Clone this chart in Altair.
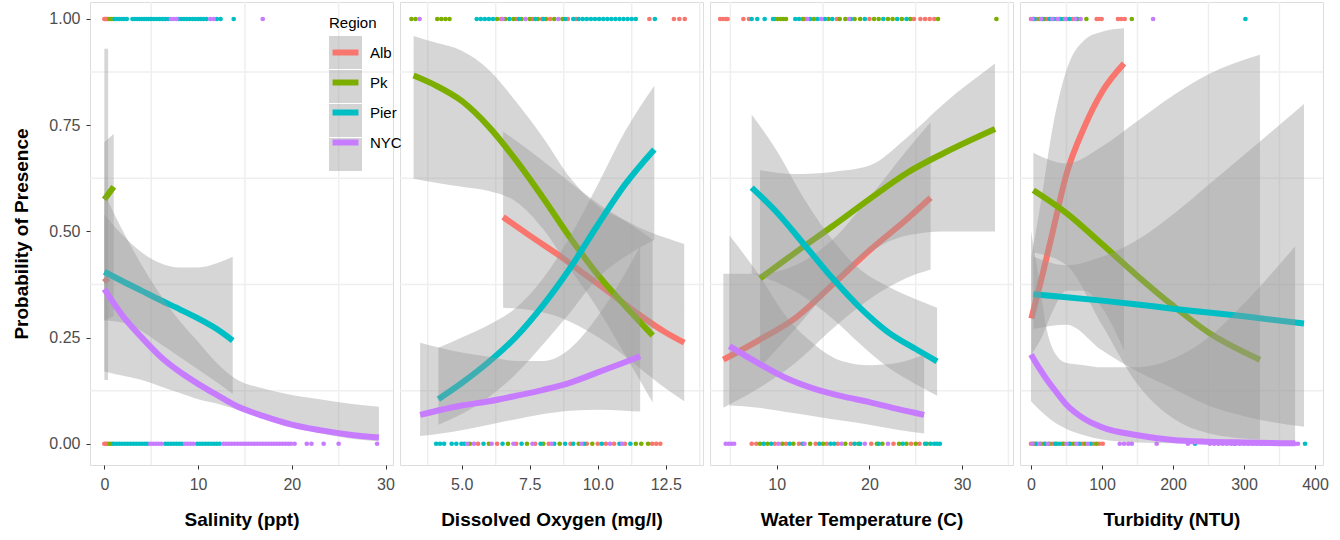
import altair as alt
import pandas as pd

FONT = "Liberation Sans"
REGIONS = ["Alb", "Pk", "Pier", "NYC"]
COLORS = ["#F8766D", "#7CAE00", "#00BFC4", "#C77CFF"]
Y_TICKS = [0, 0.25, 0.5, 0.75, 1.0]
Y_MINOR = [0.125, 0.375, 0.625, 0.875]
Y_DOMAIN = [-0.05, 1.04]

# ---------------- Salinity ----------------
SAL_TITLE = "Salinity (ppt)"
SAL_TICKS = [0, 10, 20, 30]
SAL_MINOR = [5, 15, 25]
SAL_DOMAIN = [-1.53, 30.8]
sal_alb = dict(x=[0, 0.4], fit=[0.39, 0.38], lo=[0.15, 0.15], hi=[0.93, 0.93])
sal_pk = dict(x=[0, 0.5, 1.0], fit=[0.575, 0.59, 0.605], lo=[0.29, 0.295, 0.30], hi=[0.71, 0.72, 0.73])
sal_pier = dict(x=[0, 2, 4, 6, 8, 10, 12, 13.7],
                fit=[0.405, 0.382, 0.36, 0.338, 0.317, 0.295, 0.27, 0.243],
                lo=[0.29, 0.285, 0.265, 0.235, 0.205, 0.175, 0.145, 0.117],
                hi=[0.54, 0.49, 0.45, 0.425, 0.415, 0.415, 0.425, 0.44])
sal_nyc = dict(x=[0, 2, 4, 6, 8, 10, 12, 14, 17, 20, 23, 26, 29.3],
               fit=[0.364, 0.30, 0.25, 0.205, 0.17, 0.141, 0.115, 0.09, 0.065, 0.045, 0.032, 0.022, 0.015],
               lo=[0.17, 0.16, 0.15, 0.135, 0.12, 0.105, 0.095, 0.082, 0.06, 0.04, 0.025, 0.013, 0.006],
               hi=[0.59, 0.50, 0.42, 0.35, 0.29, 0.24, 0.19, 0.153, 0.13, 0.115, 0.105, 0.095, 0.087])
sal_top_alb = [0.0, 0.1, 0.2, 0.3, 0.4]
sal_top_pk = [0.55, 0.75, 0.95]
sal_top_pier = [1.1, 1.35, 1.6, 1.85, 2.1, 2.4, 3.0, 3.25, 3.5, 3.75, 4.0, 4.25, 4.5, 4.75, 5.0, 5.3, 5.6,
                5.9, 6.2, 6.5, 6.8, 7.9, 8.2, 8.5, 8.8, 9.1, 9.4, 9.7, 10.0, 10.3, 10.6, 10.9, 12.0, 12.4, 13.8]
sal_top_nyc = [7.1, 7.4, 7.7, 11.3, 11.65, 16.9]
sal_bot_alb = [0.0, 0.15, 0.3]
sal_bot_pk = [0.55, 0.8]
sal_bot_pier = [1.0, 1.3, 1.6, 1.9, 2.2, 2.5, 2.8, 3.1, 3.4, 3.7, 4.0, 4.3, 4.6, 6.5, 6.8, 7.1, 7.4, 7.7,
                8.0, 8.3, 9.9, 10.2, 10.5, 10.8, 11.1, 11.4, 11.7, 12.0, 12.3]
sal_bot_nyc = [4.9, 5.2, 5.5, 5.8, 6.1, 8.6, 8.9, 9.2, 9.5, 12.7, 13.0, 13.3, 13.6, 13.9, 14.2, 14.5, 14.8,
               15.1, 15.4, 15.7, 16.0, 16.3, 16.6, 16.9, 17.2, 17.5, 17.8, 18.1, 18.4, 18.7, 19.0, 19.3,
               19.6, 19.9, 20.3, 21.6, 22.1, 23.4, 25.0, 29.1]

# ---------------- Dissolved oxygen ----------------
DO_TITLE = "Dissolved Oxygen (mg/l)"
DO_TICKS = [5.0, 7.5, 10.0, 12.5]
DO_MINOR = [3.75, 6.25, 8.75, 11.25, 13.75]
DO_DOMAIN = [2.73, 13.87]
do_alb = dict(x=[6.52, 7.5, 8.5, 9.5, 10.5, 11.5, 12.5, 13.18],
              fit=[0.534, 0.49, 0.447, 0.40, 0.353, 0.305, 0.262, 0.238],
              lo=[0.32, 0.315, 0.30, 0.27, 0.23, 0.18, 0.13, 0.10],
              hi=[0.735, 0.69, 0.64, 0.59, 0.545, 0.51, 0.485, 0.47])
do_pk = dict(x=[3.23, 4, 5, 6, 7, 8, 9, 10, 11, 12.02],
             fit=[0.867, 0.845, 0.807, 0.746, 0.667, 0.578, 0.484, 0.398, 0.325, 0.255],
             lo=[0.624, 0.615, 0.605, 0.595, 0.57, 0.505, 0.41, 0.318, 0.21, 0.097],
             hi=[0.96, 0.945, 0.925, 0.88, 0.805, 0.72, 0.625, 0.56, 0.525, 0.48])
do_pier = dict(x=[4.14, 5, 6, 7, 8, 9, 10, 11, 12.08],
               fit=[0.105, 0.143, 0.193, 0.252, 0.327, 0.415, 0.515, 0.61, 0.693],
               lo=[0.045, 0.07, 0.11, 0.165, 0.235, 0.31, 0.39, 0.44, 0.48],
               hi=[0.226, 0.25, 0.28, 0.32, 0.39, 0.49, 0.61, 0.735, 0.843])
do_nyc = dict(x=[3.47, 5, 6, 7, 8, 9, 10, 11, 11.56],
              fit=[0.068, 0.09, 0.10, 0.113, 0.127, 0.144, 0.168, 0.192, 0.206],
              lo=[0.018, 0.032, 0.045, 0.058, 0.07, 0.078, 0.08, 0.078, 0.076],
              hi=[0.238, 0.215, 0.205, 0.195, 0.195, 0.225, 0.30, 0.40, 0.465])
do_top_alb = [6.45, 7.0, 7.6, 7.95, 8.25, 8.9, 9.2, 11.9, 12.8, 13.0, 13.2]
do_top_pk = [3.15, 3.3, 4.1, 4.25, 4.4, 4.55, 6.3, 6.6, 6.9, 7.2, 7.5, 7.8, 8.1, 8.4, 8.7]
do_top_pier = [5.55, 5.7, 5.85, 6.0, 6.15, 6.75, 7.1, 7.7, 8.0, 8.8, 9.1, 9.3, 9.45, 9.6, 9.75, 9.9, 10.05,
               10.2, 10.35, 10.5, 10.65, 10.8, 10.95, 11.1, 11.25, 11.4, 12.1]
do_top_nyc = [3.45, 6.5, 7.35, 8.55]
do_bot_alb = [5.6, 6.3, 7.0, 7.7, 8.2, 9.0, 9.6, 10.0, 10.3, 10.6, 11.0, 12.0, 12.15, 12.3]
do_bot_pk = [5.3, 6.0, 6.7, 7.4, 8.0, 8.6, 9.3, 9.8, 11.4, 11.6, 11.85]
do_bot_pier = [4.06, 4.2, 4.35, 4.63, 4.8, 4.99, 5.1, 5.8, 6.5, 7.2, 7.9, 8.4, 8.8, 9.1, 9.5, 10.15, 10.8, 11.2]
do_bot_nyc = [5.2, 5.45, 6.1, 6.9, 7.6, 8.3, 9.4, 10.45, 10.9]

# ---------------- Water temperature ----------------
TMP_TITLE = "Water Temperature (C)"
TMP_TICKS = [10, 20, 30]
TMP_MINOR = [5, 15, 25, 35]
TMP_DOMAIN = [2.8, 35.49]
tmp_alb = dict(x=[4.24, 8, 12, 16, 20, 24, 26.6],
               fit=[0.198, 0.243, 0.296, 0.374, 0.455, 0.528, 0.579],
               lo=[0.085, 0.13, 0.19, 0.27, 0.34, 0.39, 0.41],
               hi=[0.40, 0.40, 0.42, 0.48, 0.58, 0.69, 0.757])
tmp_pk = dict(x=[8.2, 12, 16, 20, 24, 28, 33.55],
              fit=[0.389, 0.45, 0.512, 0.576, 0.637, 0.684, 0.741],
              lo=[0.18, 0.27, 0.37, 0.45, 0.49, 0.50, 0.50],
              hi=[0.644, 0.635, 0.64, 0.655, 0.72, 0.80, 0.895])
tmp_pier = dict(x=[7.3, 10, 13, 16, 19, 22, 25, 27.3],
                fit=[0.603, 0.545, 0.468, 0.39, 0.32, 0.263, 0.223, 0.194],
                lo=[0.40, 0.38, 0.345, 0.295, 0.235, 0.18, 0.14, 0.113],
                hi=[0.775, 0.69, 0.575, 0.48, 0.41, 0.37, 0.34, 0.32])
tmp_nyc = dict(x=[4.9, 8, 11, 14, 17, 20, 23, 25.9],
               fit=[0.23, 0.19, 0.155, 0.13, 0.112, 0.098, 0.082, 0.068],
               lo=[0.09, 0.085, 0.075, 0.065, 0.055, 0.045, 0.033, 0.024],
               hi=[0.49, 0.40, 0.30, 0.235, 0.195, 0.185, 0.19, 0.21])
tmp_top_alb = [3.9, 4.2, 4.5, 4.7, 6.4, 7.0, 13.0, 16.5, 20.0, 24.8, 25.5, 26.0, 26.5, 27.0]
tmp_top_pk = [9.8, 10.1, 10.4, 10.7, 11.0, 12.8, 14.0, 15.6, 16.8, 17.4, 18.4, 19.0, 20.5, 21.0, 22.0,
              22.5, 23.5, 24.4, 27.4, 33.7]
tmp_top_pier = [7.3, 7.9, 8.7, 9.6, 12.0, 12.4, 13.6, 14.4, 15.2, 16.0, 18.0, 19.5, 21.5, 23.0, 24.0]
tmp_top_nyc = [13.3, 14.8, 17.8]
tmp_bot_alb = [7.3, 7.8, 9.8, 11.0, 12.4, 14.2, 15.4, 16.6, 18.0, 20.2, 22.6, 24.5, 25.4]
tmp_bot_pk = [8.2, 9.0, 10.6, 11.8, 13.6, 15.0, 17.4, 18.8, 20.8, 21.4, 23.2, 24.0, 25.0, 26.2]
tmp_bot_pier = [8.6, 9.4, 11.4, 12.8, 14.6, 15.8, 16.2, 18.4, 19.0, 21.0, 23.6, 26.0, 26.6, 27.0, 27.3, 27.6]
tmp_bot_nyc = [4.5, 4.8, 5.1, 5.4, 10.2, 13.0, 17.0, 19.5, 22.0]

# ---------------- Turbidity ----------------
TRB_TITLE = "Turbidity (NTU)"
TRB_TICKS = [0, 100, 200, 300, 400]
TRB_MINOR = [50, 150, 250, 350]
TRB_DOMAIN = [-15.5, 411.3]
trb_alb = dict(x=[0.5, 15, 30, 50, 75, 100, 131],
               fit=[0.295, 0.39, 0.495, 0.635, 0.745, 0.828, 0.895],
               lo=[0.21, 0.25, 0.31, 0.36, 0.36, 0.32, 0.22],
               hi=[0.44, 0.58, 0.74, 0.88, 0.95, 0.97, 0.978])
trb_pk = dict(x=[3.3, 50, 100, 150, 200, 250, 322.5],
              fit=[0.597, 0.543, 0.47, 0.395, 0.325, 0.262, 0.198],
              lo=[0.45, 0.42, 0.28, 0.14, 0.06, 0.025, 0.01],
              hi=[0.685, 0.66, 0.70, 0.76, 0.82, 0.87, 0.916])
trb_pier = dict(x=[3.3, 50, 100, 150, 200, 250, 300, 384.5],
                fit=[0.352, 0.345, 0.337, 0.328, 0.318, 0.309, 0.30, 0.283],
                lo=[0.27, 0.28, 0.22, 0.17, 0.13, 0.09, 0.065, 0.04],
                hi=[0.44, 0.42, 0.44, 0.48, 0.54, 0.61, 0.68, 0.80])
trb_nyc = dict(x=[0, 10, 22, 35, 50, 75, 100, 150, 200, 250, 300, 372],
               fit=[0.21, 0.182, 0.152, 0.123, 0.092, 0.059, 0.039, 0.02, 0.009, 0.005, 0.003, 0.001],
               lo=[0.10, 0.083, 0.065, 0.048, 0.035, 0.02, 0.01, 0.003, 0.001, 0.0, 0.0, 0.0],
               hi=[0.50, 0.40, 0.27, 0.21, 0.19, 0.185, 0.18, 0.18, 0.20, 0.25, 0.33, 0.465])
trb_top_alb = [0, 8, 22, 36, 50, 58, 92.5, 96, 99.5, 122.5, 127, 132]
trb_top_pk = [3, 12, 18, 28, 40, 46, 66, 78, 142]
trb_top_pier = [5, 16, 26, 32, 42, 54, 64, 302]
trb_top_nyc = [2, 14, 30, 38, 48, 62, 70, 172]
trb_bot_alb = [0, 6, 18, 30, 44, 56, 72, 88, 96, 101]
trb_bot_pk = [4, 14, 26, 36, 46, 60, 76, 92]
trb_bot_pier = [8, 20, 34, 40, 54, 68, 84, 231, 287, 386]
trb_bot_nyc = [2, 12, 24, 50, 64, 80, 125, 131, 137, 142, 177, 221, 252, 258, 264, 270, 276, 282, 288,
               294, 300, 306, 312, 318, 324, 330, 336, 342, 348, 354, 360, 366, 372, 376]

# ---------------- legends ----------------
LEG_X = 239
LEG_Y = 14
# grey key backgrounds (no visible text of their own)
legend_keys = alt.Legend(
    title=" ", orient="none", legendX=LEG_X, legendY=LEG_Y, zindex=0,
    symbolType="square", symbolSize=1089, symbolStrokeWidth=0, symbolOpacity=0.42,
    labelExpr="''", labelFontSize=15, labelOffset=8, labelFont=FONT,
    titleFontSize=15, titleFontWeight="normal", titleFont=FONT, titlePadding=5,
    rowPadding=1, padding=0,
)
# coloured line keys with the title and labels
legend_lines = alt.Legend(
    title="Region", orient="none", legendX=LEG_X, legendY=LEG_Y, zindex=1,
    symbolType="M-0.96,0H0.96", symbolSize=729, symbolStrokeWidth=6, symbolOpacity=1,
    symbolFillColor="transparent",
    labelFontSize=15, labelOffset=8, labelFont=FONT, labelColor="black",
    titleFontSize=15, titleFontWeight="normal", titleFont=FONT, titleColor="black", titlePadding=5,
    rowPadding=1, padding=0,
)

# each colour channel gets its own domain order so that Vega-Lite keeps the legends apart
POINT_ORDER = [3, 2, 1, 0]
BAND_ORDER = [1, 0, 3, 2]
point_scale = alt.Scale(domain=[REGIONS[i] for i in POINT_ORDER], range=[COLORS[i] for i in POINT_ORDER])
band_scale = alt.Scale(domain=[REGIONS[i] for i in BAND_ORDER], range=["#999999"] * 4)
line_scale = alt.Scale(domain=REGIONS, range=COLORS)


def curve_df(region, c):
    return pd.DataFrame({"x": c["x"], "fit": c["fit"], "lo": c["lo"], "hi": c["hi"],
                         "Region": region, "Reg": region})


def point_df(top, bot):
    rows = []
    for region, vals in zip(REGIONS, top):
        rows += [{"x": v, "y": 1.0, "Region": region} for v in vals]
    for region, vals in zip(REGIONS, bot):
        rows += [{"x": v, "y": 0.0, "Region": region} for v in vals]
    return pd.DataFrame(rows)


def panel(curves, top, bot, domain, ticks, minor, title, fmt, first):
    xscale = alt.Scale(domain=domain, nice=False, zero=False)
    yscale = alt.Scale(domain=Y_DOMAIN, nice=False, zero=False)
    xaxis = alt.Axis(values=ticks, format=fmt, title=title, grid=False, domain=False,
                     tickSize=4, tickColor="#333333", labelFontSize=16, labelColor="#4d4d4d",
                     labelFont=FONT, labelPadding=7, titleFont=FONT, titleFontSize=19,
                     titleFontWeight="bold", titleColor="black", titlePadding=18)
    if first:
        yaxis = alt.Axis(values=Y_TICKS, format=".2f", title="Probability of Presence", grid=False,
                         domain=False, tickSize=4, tickColor="#333333", labelFontSize=16,
                         labelColor="#4d4d4d", labelFont=FONT, labelPadding=6, titleFont=FONT,
                         titleFontSize=19, titleFontWeight="bold", titleColor="black",
                         titlePadding=17)
    else:
        yaxis = None
    X = alt.X("x:Q", scale=xscale, axis=xaxis)

    layers = []
    layers.append(alt.Chart(pd.DataFrame({"x": minor})).mark_rule(color="#efefef", strokeWidth=1.5)
                  .encode(x=X))
    layers.append(alt.Chart(pd.DataFrame({"y": Y_MINOR})).mark_rule(color="#efefef", strokeWidth=1.5)
                  .encode(y=alt.Y("y:Q", scale=yscale, axis=yaxis)))
    layers.append(alt.Chart(point_df(top, bot)).mark_circle(size=22, opacity=1).encode(
        x=X, y=alt.Y("y:Q", scale=yscale, axis=yaxis),
        color=alt.Color("Region:N", scale=point_scale, legend=None)))
    for region, c in zip(REGIONS, curves):
        df = curve_df(region, c)
        layers.append(alt.Chart(df).mark_area(opacity=0.4, interpolate="monotone").encode(
            x=X, y=alt.Y("lo:Q", scale=yscale, axis=yaxis), y2="hi:Q",
            fill=alt.Fill("Reg:N", scale=band_scale, legend=legend_keys)))
        layers.append(alt.Chart(df).mark_line(strokeWidth=6, interpolate="monotone").encode(
            x=X, y=alt.Y("fit:Q", scale=yscale, axis=yaxis),
            stroke=alt.Stroke("Region:N", scale=line_scale, legend=legend_lines)))
    return alt.layer(*layers).properties(width=303, height=463)


p1 = panel([sal_alb, sal_pk, sal_pier, sal_nyc],
           [sal_top_alb, sal_top_pk, sal_top_pier, sal_top_nyc],
           [sal_bot_alb, sal_bot_pk, sal_bot_pier, sal_bot_nyc],
           SAL_DOMAIN, SAL_TICKS, SAL_MINOR, SAL_TITLE, "d", True)
p2 = panel([do_alb, do_pk, do_pier, do_nyc],
           [do_top_alb, do_top_pk, do_top_pier, do_top_nyc],
           [do_bot_alb, do_bot_pk, do_bot_pier, do_bot_nyc],
           DO_DOMAIN, DO_TICKS, DO_MINOR, DO_TITLE, ".1f", False)
p3 = panel([tmp_alb, tmp_pk, tmp_pier, tmp_nyc],
           [tmp_top_alb, tmp_top_pk, tmp_top_pier, tmp_top_nyc],
           [tmp_bot_alb, tmp_bot_pk, tmp_bot_pier, tmp_bot_nyc],
           TMP_DOMAIN, TMP_TICKS, TMP_MINOR, TMP_TITLE, "d", False)
p4 = panel([trb_alb, trb_pk, trb_pier, trb_nyc],
           [trb_top_alb, trb_top_pk, trb_top_pier, trb_top_nyc],
           [trb_bot_alb, trb_bot_pk, trb_bot_pier, trb_bot_nyc],
           TRB_DOMAIN, TRB_TICKS, TRB_MINOR, TRB_TITLE, "d", False)

chart = (
    alt.hconcat(p1, p2, p3, p4, spacing=3)
    .properties(padding={"left": 12, "top": 0, "right": 3, "bottom": 3}, background="white")
    .configure_view(stroke="transparent", strokeWidth=0)
    .configure(font=FONT)
)

chart.save("out.html", embed_options={"renderer": "svg", "actions": False})
